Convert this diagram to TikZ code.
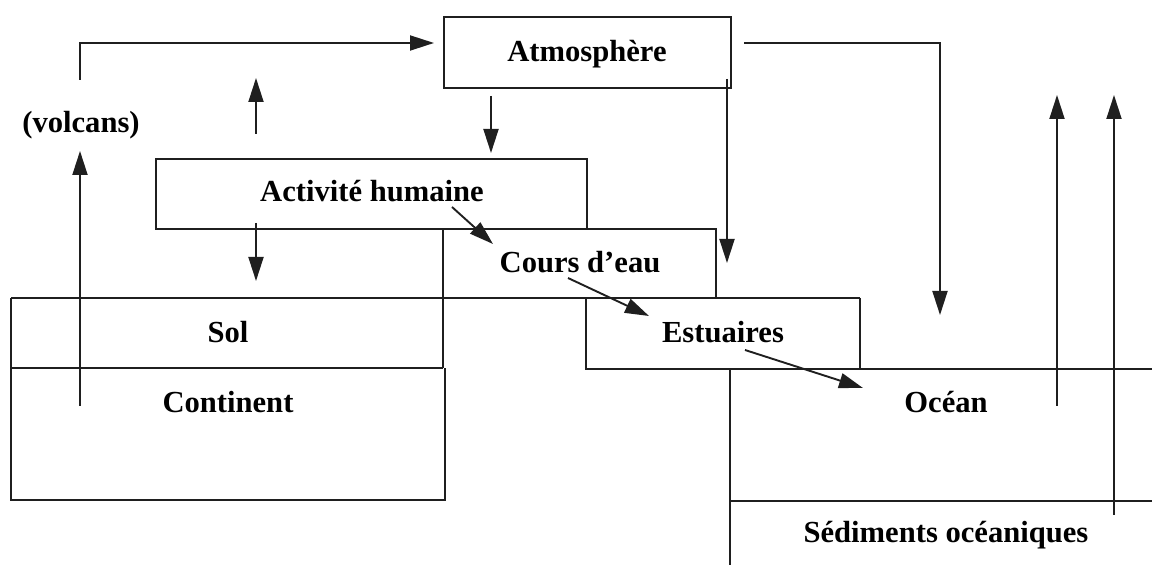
\documentclass[tikz,border=0pt]{standalone}
\usepackage{fontspec}
\setmainfont{Liberation Serif}
\usetikzlibrary{arrows.meta}
\begin{document}
\begin{tikzpicture}[x=0.5pt,y=-0.5pt,
  line/.style={line width=0.95pt,draw=black!88},
  arr/.style={line,-{Triangle[length=12pt,width=7.5pt]}},
  lbl/.style={font=\bfseries\fontsize{15.3}{18}\selectfont,inner sep=0pt,anchor=base}]
\useasboundingbox (0,0) rectangle (1152,565);
% boxes / layers
\draw[line] (444,17) rectangle (731,88);          % Atmosphere
\draw[line] (156,159) rectangle (587,229);        % Activite humaine
\draw[line] (443,229) -- (716,229) -- (716,298);  % Cours d'eau
\draw[line] (11,298) -- (860,298);                % Sol / Cours d'eau / Estuaires
\draw[line] (443,229) -- (443,368);
\draw[line] (11,368) -- (443,368);                % Sol / Continent
\draw[line] (11,298) -- (11,500) -- (445,500) -- (445,368);
\draw[line] (586,298) -- (586,369) -- (1152,369); % Estuaires bottom / Ocean top
\draw[line] (860,298) -- (860,369);
\draw[line] (730,369) -- (730,565);               % Ocean left
\draw[line] (730,501) -- (1152,501);              % Ocean / Sediments

% labels
\node[lbl] (atm) at (587,62) {Atmosphère};
\node[lbl] (volc) at (81,133) {(volcans)};
\node[lbl] (act) at (372,202) {Activité humaine};
\node[lbl] (cours) at (580,273) {Cours d’eau};
\node[lbl] (sol) at (228,343) {Sol};
\node[lbl] (estu) at (723,343) {Estuaires};
\node[lbl] (cont) at (228,413) {Continent};
\node[lbl] (ocean) at (946,413) {Océan};
\node[lbl] (sedi) at (946,543) {Sédiments océaniques};

% arrow end points
\coordinate (v0) at (80,80);   \coordinate (v1) at (80,43);   \coordinate (v2) at (434,43);
\coordinate (u0) at (256,134); \coordinate (u1) at (256,78);
\coordinate (d0) at (491,96);  \coordinate (d1) at (491,153);
\coordinate (r0) at (744,43);  \coordinate (r1) at (940,43);  \coordinate (r2) at (940,315);
\coordinate (a0) at (727,79);  \coordinate (a1) at (727,263);
\coordinate (c0) at (80,406);  \coordinate (c1) at (80,151);
\coordinate (s0) at (256,223); \coordinate (s1) at (256,281);
\coordinate (h0) at (452,207); \coordinate (h1) at (493,244);
\coordinate (e0) at (568,278); \coordinate (e1) at (649,316);
\coordinate (o0) at (745,350); \coordinate (o1) at (863,388);
\coordinate (p0) at (1057,406); \coordinate (p1) at (1057,95);
\coordinate (q0) at (1114,515); \coordinate (q1) at (1114,95);

% arrows
\draw[arr] (v0) -- (v1) -- (v2);
\draw[arr] (u0) -- (u1);
\draw[arr] (d0) -- (d1);
\draw[arr] (r0) -- (r1) -- (r2);
\draw[arr] (a0) -- (a1);
\draw[arr] (c0) -- (c1);
\draw[arr] (s0) -- (s1);
\draw[arr] (h0) -- (h1);
\draw[arr] (e0) -- (e1);
\draw[arr] (o0) -- (o1);
\draw[arr] (p0) -- (p1);
\draw[arr] (q0) -- (q1);
\end{tikzpicture}
\end{document}
